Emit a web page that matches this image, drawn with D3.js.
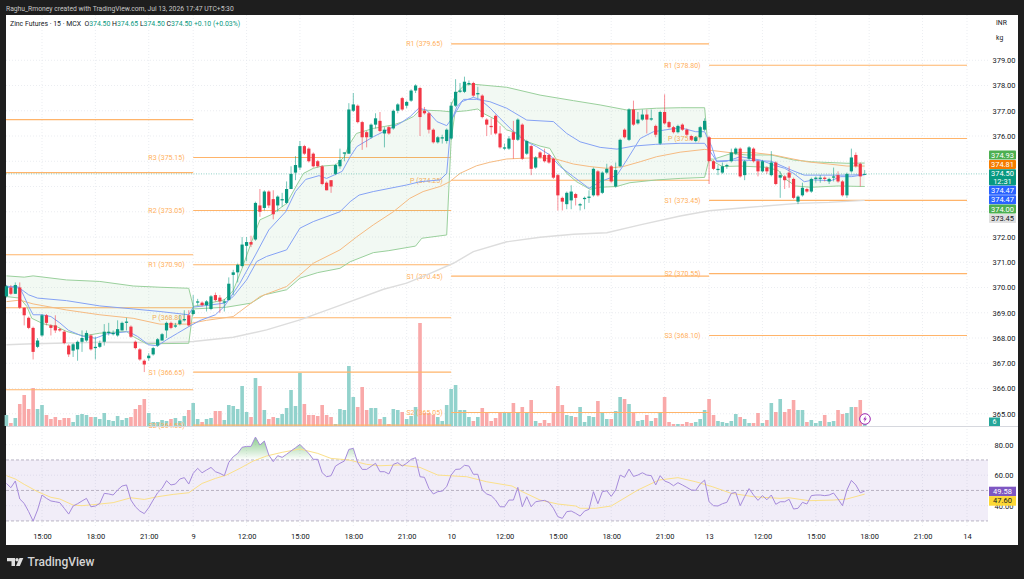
<!DOCTYPE html>
<html>
<head>
<meta charset="utf-8">
<script src="https://d3js.org/d3.v7.min.js"></script>
<style>
html, body { margin: 0; padding: 0; background: #1e1e1e; }
svg { display: block; }
text { font-family: Roboto, "Liberation Sans", sans-serif; }
.axis path, .axis line { display: none; }
.axis text { fill: #131722; font-size: 7.5px; font-family: Roboto, "Liberation Sans", sans-serif; }
</style>
</head>
<body>
<svg width="1024" height="579"></svg>
<script>
// ---- data, 15 minute bars ----
var opens = [
  369.65,370.0,369.75,370.0,369.2,368.8,368.4,367.65,368.1,368.9,
  368.5,368.5,368.35,368.25,367.7,367.5,367.55,367.85,367.9,368.1,
  367.6,367.65,367.85,368.2,368.15,368.1,368.3,368.6,368.45,367.85,
  367.55,367.1,367.2,367.35,367.7,367.9,368.3,368.6,368.45,368.55,
  368.7,368.9,368.95,369.4,369.4,369.3,369.15,369.7,369.6,369.4,
  369.5,370.5,370.6,370.85,371.65,371.8,371.9,373.25,373.15,373.8,
  373.5,373.25,373.45,373.35,373.9,374.55,374.75,375.6,375.5,375.3,
  375.0,374.8,374.15,374.25,374.5,374.8,375.3,375.3,377.0,377.2,
  376.55,376.15,375.95,376.45,376.6,376.1,376.35,376.3,377.0,377.5,
  377.2,377.4,377.8,377.9,377.0,376.9,376.25,375.75,375.9,375.8,
  375.9,377.2,377.75,377.75,378.05,378.1,377.65,377.6,376.65,376.4,
  376.8,376.1,375.5,375.5,376.15,375.85,376.45,375.3,375.6,374.75,
  375.35,375.25,375.25,375.1,374.45,373.55,373.3,373.45,373.7,373.25,
  373.5,373.55,373.65,374.6,373.75,374.55,374.8,374.0,374.8,376.25,
  375.85,377.05,376.5,376.65,376.85,376.65,376.4,375.7,376.95,376.55,
  376.35,376.15,376.45,376.25,376.0,375.8,375.95,376.25,375.95,375.0,
  374.65,374.55,374.8,375.0,375.3,375.5,374.45,375.1,375.5,375.0,
  374.6,374.75,374.45,374.95,374.35,374.4,374.55,374.3,373.4,373.65,
  373.9,373.8,374.3,374.3,374.35,374.2,374.35,374.45,374.2,373.65,
  374.6,375.25,374.9,374.5];
var highs = [
  370.1,370.1,370.2,370.2,369.2,368.85,368.45,368.0,368.95,368.95,
  368.55,368.9,368.4,368.3,367.75,367.8,367.9,368.3,368.3,368.15,
  368.05,367.9,368.55,368.6,368.3,368.7,368.65,368.8,368.5,367.9,
  367.6,367.15,367.4,367.65,368.0,368.2,368.65,368.65,368.6,368.9,
  369.1,369.1,369.7,369.55,369.45,369.5,369.7,369.8,369.7,369.55,
  370.4,370.7,370.95,372.0,372.0,372.05,373.4,373.9,373.85,373.85,
  373.85,373.65,373.75,374.2,374.8,375.2,375.8,375.65,375.55,375.35,
  375.05,374.85,374.2,374.25,374.9,375.5,375.35,377.3,377.7,377.25,
  376.6,376.2,376.5,376.9,376.95,376.35,376.4,377.05,377.3,377.55,
  377.4,377.85,378.05,377.95,377.15,376.95,376.3,376.0,376.05,376.3,
  377.35,378.25,378.1,378.35,378.2,378.15,377.95,377.65,376.7,376.7,
  376.85,376.4,375.7,376.0,376.6,376.7,376.5,375.85,375.65,375.2,
  375.4,375.5,375.3,375.15,374.5,373.6,373.8,374.05,373.75,373.35,
  373.6,373.85,374.75,374.65,374.6,374.9,374.85,374.95,375.9,376.3,
  377.1,377.4,376.95,377.05,377.05,377.05,376.45,377.0,377.65,376.6,
  376.4,376.45,376.5,376.3,376.05,376.0,376.4,376.7,376.0,375.05,
  374.85,374.95,374.9,375.5,375.55,375.55,375.05,375.6,375.55,375.05,
  375.05,374.8,375.4,375.0,374.6,374.45,374.8,374.35,373.65,374.15,
  373.95,374.35,374.4,374.45,374.4,374.35,374.75,374.6,374.25,374.55,
  375.5,375.35,374.95,374.65];
var lows = [
  369.6,369.7,369.75,369.15,368.5,368.35,367.15,367.6,368.05,368.5,
  368.1,368.2,368.25,367.75,367.25,367.25,367.1,367.45,367.85,367.5,
  367.15,367.6,367.7,368.1,368.1,368.05,368.3,368.3,368.0,367.55,
  367.1,366.65,367.1,367.3,367.65,367.9,368.0,368.35,368.4,368.5,
  368.65,368.45,368.9,369.3,369.25,369.05,369.1,369.45,369.0,369.05,
  369.5,369.7,370.2,370.8,371.05,371.6,371.85,372.8,373.05,373.15,
  372.7,373.0,373.2,373.3,373.9,374.25,374.65,375.25,374.95,374.75,
  374.75,374.05,373.85,373.75,374.45,374.7,375.0,375.3,376.95,376.5,
  375.45,375.55,375.9,376.3,376.15,375.55,376.05,376.25,376.9,377.0,
  377.1,377.35,377.7,376.0,376.85,376.1,375.7,375.7,375.7,375.7,
  375.85,377.15,377.7,377.7,378.0,377.55,377.5,376.7,376.0,376.05,
  376.05,375.5,375.45,375.45,375.1,375.8,375.05,375.25,374.45,374.7,
  375.1,374.95,374.9,374.3,373.05,373.05,373.1,373.1,373.25,373.05,
  373.1,373.35,373.6,373.6,373.7,374.5,374.15,373.95,374.75,375.9,
  375.8,376.4,376.45,376.6,376.1,376.6,375.95,375.65,376.45,376.3,
  376.1,376.1,376.2,376.0,375.8,375.75,375.9,376.2,374.1,374.65,
  374.45,374.5,374.7,374.95,375.25,374.35,374.25,375.05,374.95,374.4,
  374.55,374.5,374.4,374.05,373.55,373.9,373.95,373.5,373.3,373.6,
  373.75,373.75,374.15,374.15,374.2,374.1,374.2,374.15,373.6,373.55,
  374.55,374.75,374.0,374.5];
var closes = [
  370.05,369.75,370.1,369.2,368.9,368.4,367.45,367.9,368.9,368.6,
  368.4,368.3,368.3,367.8,367.35,367.75,367.85,368.0,368.2,367.55,
  367.65,367.8,368.25,368.25,368.2,368.35,368.6,368.65,368.05,367.6,
  367.15,366.95,367.3,367.6,367.95,368.15,368.6,368.4,368.5,368.7,
  368.75,368.5,369.1,369.45,369.3,369.45,369.65,369.5,369.45,369.45,
  370.15,370.6,370.9,371.7,371.8,371.7,373.35,373.0,373.8,373.25,
  372.9,373.6,373.5,373.9,374.5,374.85,375.6,375.3,375.0,374.8,
  374.8,374.1,373.85,374.0,374.85,375.05,375.35,377.05,377.25,376.55,
  375.95,375.95,376.45,376.7,376.2,376.25,376.1,377.0,377.25,377.05,
  377.35,377.8,378.0,376.75,376.9,376.25,375.75,375.95,375.95,376.25,
  377.2,377.75,377.8,378.15,378.1,377.6,377.7,376.75,376.45,376.35,
  376.1,375.55,375.55,375.9,375.85,376.65,375.1,375.8,374.7,375.15,
  375.15,375.0,374.95,374.35,373.65,373.4,373.75,373.8,373.55,373.3,
  373.55,373.6,374.7,373.65,374.55,374.7,374.2,374.65,375.85,375.95,
  377.05,376.45,376.65,376.85,376.65,376.7,376.05,376.95,376.5,376.35,
  376.15,376.4,376.25,376.05,375.85,375.95,376.35,376.6,375.0,374.7,
  374.7,374.8,374.85,375.35,375.5,374.4,375.0,375.55,375.0,374.6,
  375.0,374.6,374.95,374.1,374.45,374.25,374.35,373.55,373.6,373.95,
  373.8,374.3,374.35,374.35,374.3,374.3,374.4,374.2,373.65,374.5,
  375.15,374.8,374.4,374.5];
var volumes = [
  11,3,8,22,31,17,38,17,21,11,
  7,9,6,8,8,4,11,12,11,9,
  9,7,13,6,5,10,6,8,9,17,
  21,27,13,4,4,6,5,7,8,5,
  10,16,23,7,4,7,8,15,15,6,
  21,20,17,40,14,9,48,40,16,7,
  9,8,12,18,36,20,53,22,11,11,
  10,21,11,9,2,17,16,60,29,19,
  39,16,18,18,7,9,2,17,16,14,
  7,10,19,103,13,13,11,9,5,21,
  37,41,16,16,9,5,9,18,14,5,
  8,14,13,14,23,13,19,13,26,5,
  3,6,3,14,40,21,11,10,9,19,
  4,10,9,25,14,7,7,15,29,27,
  22,13,5,6,11,5,8,13,29,4,
  2,2,2,4,3,4,7,16,27,11,
  5,4,3,5,12,9,7,3,3,13,
  3,6,23,14,27,14,17,26,16,16,
  4,6,3,5,11,4,5,16,12,13,
  19,19,26,3];
var rsi = [
  54.6,51.8,56.2,44.4,41.5,36.1,29.9,37.2,47.0,44.8,
  43.1,42.6,42.0,38.3,34.5,39.8,41.3,43.1,44.8,39.3,
  39.8,41.5,48.1,47.7,47.0,50.3,52.9,53.6,43.7,39.3,
  36.5,34.8,38.7,43.7,48.5,51.4,56.4,53.6,54.2,57.5,
  58.4,54.2,61.2,64.5,61.6,63.4,65.1,62.3,61.2,59.7,
  68.4,72.1,74.3,78.3,78.9,78.9,85.0,79.8,82.4,73.2,
  68.9,72.8,71.7,73.7,75.9,78.0,80.2,77.2,74.3,70.4,
  70.4,61.6,59.0,59.7,66.0,67.8,69.3,76.9,77.6,68.2,
  63.8,63.8,65.8,67.8,62.3,62.3,60.8,67.1,68.2,66.0,
  67.8,70.4,71.5,59.0,58.6,51.4,47.7,49.2,49.6,52.5,
  60.1,63.8,64.0,66.5,66.0,60.6,60.6,50.3,47.7,46.6,
  43.7,39.3,39.3,43.7,43.7,52.0,39.3,45.9,39.3,42.6,
  43.1,43.5,42.2,38.3,32.8,31.7,36.1,36.5,35.0,33.2,
  36.5,37.6,49.2,41.3,49.2,49.8,46.1,50.3,60.1,58.6,
  64.0,59.2,60.1,61.6,60.1,59.7,53.6,59.7,56.2,55.1,
  53.1,55.1,53.6,52.0,50.3,50.1,54.2,56.8,42.6,40.0,
  39.8,41.3,42.2,48.1,48.7,40.0,45.9,51.2,47.0,43.5,
  46.6,43.9,47.0,40.9,42.6,42.6,44.2,37.8,38.3,42.2,
  41.1,46.6,47.0,47.0,46.6,47.0,48.3,44.4,40.0,50.3,
  56.6,53.6,48.5,49.58];

// indicators, read as [bar, value]
var rsiMa = [[0,59.7],[2,57.5],[4,54],[7,49.2],[10,45.5],[12,44.4],[15,40.4],[17,40],[21,41.1],[24,42],[28,45.2],[31,44.1],[34,45.9],[37.5,47.4],[41,48.5],[44,54.6],[47,57.9],[49.5,60.1],[52.5,64.5],[55.5,69.3],[58.5,72.6],[62,75],[66,77.2],[70,74.3],[73,71],[77,70],[81,67.1],[84,66.2],[88.5,66.7],[93,65.1],[97,60.1],[103.5,59],[108,55.7],[113.7,52.9],[116,49.2],[120,43.7],[124,41.1],[128,39.8],[129,38.3],[132.5,38.3],[136,39.8],[142,50.3],[146.7,56.8],[151,58.4],[155,55.7],[158.7,52.5],[163,48.1],[168,45.9],[174,44.8],[176,45.2],[180.5,43.3],[186,43.7],[189,44.4],[193,47.6]];
var emaSlow = [[0,369.44],[3,369.5],[6,369.35],[13.5,369.11],[21,368.92],[28.5,368.78],[34.5,368.55],[40.5,368.55],[45,368.7],[51,368.85],[57,369.64],[63,370.04],[69,370.96],[75,371.49],[78.8,372.01],[82.5,372.48],[87,373.0],[90.7,373.53],[93.7,373.8],[97.5,374.0],[99.7,374.19],[102,374.52],[105.7,374.82],[108.7,374.96],[112.5,375.09],[116.2,375.12],[120,375.14],[123.7,375.08],[127.5,374.89],[131.2,374.79],[135,374.72],[138.7,374.79],[142.5,374.98],[146.2,375.18],[151.5,375.36],[157,375.47],[159,375.42],[162.8,375.34],[168,375.34],[172.5,375.25],[176,375.12],[180,374.98],[185.4,374.88],[189,374.81],[193,374.81]];
var emaLong = [[0,367.73],[6,367.77],[21,367.83],[36,367.82],[42,367.86],[51,368.03],[58.5,368.32],[66,368.72],[75,369.29],[84.8,369.93],[90,370.17],[95.3,370.56],[100.5,370.96],[105,371.42],[112.5,371.81],[120,371.99],[127.5,372.11],[135,372.17],[142.5,372.48],[151.5,372.83],[158,373.04],[166.5,373.17],[178,373.33],[185,373.37],[193,373.45]];
var emaFast = [[0,369.99],[2,370.05],[3,370],[4,369.64],[5,369.25],[6,368.92],[8,368.92],[10,368.85],[12,368.6],[14,368.3],[17,368.08],[20,367.99],[22.5,368.16],[25.5,368.22],[27.5,368.25],[29.5,368.06],[32,367.73],[34,367.69],[36,367.93],[38.5,368.19],[41,368.45],[43.5,368.69],[47,368.92],[49,369.25],[52.5,370.17],[56,371.29],[59,372.28],[62.8,373.0],[65,373.8],[67.3,374.28],[70.3,374.43],[72,374.32],[74,374.48],[75.5,374.6],[77.3,375.18],[78.8,375.58],[82.5,375.97],[86.3,376.3],[88.5,376.5],[90.8,376.77],[92.7,377.1],[94.5,377.03],[96.8,376.57],[99,376.41],[100.5,376.77],[102.4,377.36],[105,377.53],[106.5,377.45],[108.8,377.1],[111,376.7],[113.3,376.3],[116.2,375.84],[119.2,375.58],[122.2,375.25],[124.5,374.79],[127.5,374.39],[131,373.93],[133.6,374.19],[137.3,374.45],[139.5,375.05],[142.5,375.9],[145.5,376.17],[151.5,376.33],[155,376.17],[157,376.17],[158.6,375.58],[159.7,374.98],[162,375],[165,375.18],[169.5,375.05],[172.5,374.85],[175,374.72],[177,374.52],[179.4,374.19],[181.5,374.26],[185.4,374.23],[187.6,374.39],[190,374.39],[193,374.47]];
var vwap = [[0,370.06],[3,369.97],[5,369.71],[7,369.58],[13.5,369.48],[21,369.27],[28.5,369.15],[34.5,369.05],[41,368.92],[42,369.22],[49,369.38],[51,369.64],[54,370.3],[56.3,371.03],[58.5,371.23],[63,371.49],[66,372.35],[69,372.61],[75,373.0],[77.3,373.4],[79.3,373.66],[82.5,373.8],[90,374.06],[93,374.19],[97.5,374.26],[99,374.52],[100,376.57],[101.3,377.16],[102.8,377.45],[105.7,377.45],[108.7,377.36],[112.5,377.1],[117,376.63],[123,376.57],[126,376.1],[129,375.77],[133.5,375.55],[137.3,375.48],[141,375.6],[146,375.67],[151.5,375.71],[157,375.71],[158,375.45],[159.7,375.01],[165,375.05],[172,375],[176.5,374.65],[179.4,374.45],[189,374.45],[193,374.47]];
var bandUpper = [[0,370.46],[4,370.41],[6,370.46],[13.5,370.3],[21,370.24],[28.5,370.06],[34.5,370.01],[41,369.97],[42,369.25],[49,369.51],[51,369.88],[53,370.76],[55,371.75],[57,372.68],[59.5,372.88],[63,373.33],[65.3,374.06],[66.8,374.52],[69,374.72],[71,374.81],[74,374.85],[76,375.18],[77,375.64],[78.7,376.1],[82.5,376.3],[87,376.44],[89.2,376.57],[91.5,376.77],[93,377.03],[97.5,377],[99.7,376.96],[100,377.23],[101.2,377.69],[103,378.02],[105,378.05],[112.5,377.93],[120,377.62],[127.5,377.4],[133.5,377.23],[139.5,377.03],[146.2,377.1],[151.5,377.12],[157,377.12],[158,375.1],[159,375.08],[163,375.31],[166.5,375.25],[172,375.25],[177,375.05],[181,374.98],[189,374.92],[193,374.93]];
var bandLower = [[0,369.64],[3,369.58],[4.6,369.25],[5.7,368.78],[8.3,368.56],[11.3,368.45],[13.5,368.26],[17.3,368.08],[21,368.19],[27,368.26],[28.5,368.06],[31.5,367.77],[41,367.79],[42,369.15],[49.5,369.22],[55,369.38],[58,369.71],[63,369.91],[66,370.37],[70,370.59],[75,370.76],[77.3,371.02],[82.5,371.38],[86,371.46],[92,371.64],[93.4,371.95],[99,372.08],[100,375.84],[100.9,376.96],[103.5,377],[106,377.07],[107.2,376.9],[110.2,376.63],[112.5,376.24],[114.7,376.13],[117,375.78],[120,375.6],[122.2,375.51],[123.7,375.05],[126,374.52],[128.2,374.19],[131.2,373.89],[133.5,373.97],[137.2,374],[140.2,374.15],[146.2,374.26],[151.5,374.32],[157,374.36],[158,375.08],[161,374.79],[165,374.81],[171,374.76],[173.6,374.63],[175,374.32],[177.4,374.02],[181,373.97],[187,374.02],[193,374.0]];

// pivots: each period runs between two bars
var pivotPeriods = [[-1,42],[42,100],[100,158],[158,216]];
var pivotNames = [
  ["","","","",""],
  ["R3","R2","R1","P","S1","S2"],
  ["R1","P","S1","S2"],
  ["R1","P","S1","S2","S3"]];
var pivotLevels = [
  [376.65,374.55,371.3,369.2,365.95],
  [375.15,373.05,370.90,368.80,366.65,364.55],
  [379.65,374.25,370.45,365.05],
  [378.80,375.90,373.45,370.55,368.10]];

var priceTicks = [365,366,367,368,369,370,371,372,373,374,375,376,377,378,379];
// 373, 374 and 375 sit behind the price tags
var priceLabels = [365,366,367,368,369,370,371,372,376,377,378,379];
var rsiTicks = [80,60,40];
var rsiBands = [70,50,30];
var timeBars = [8,20,32,42,54,66,78,90,100,112,124,136,148,158,170,182,194,206,216];
var timeLabels = ["15:00","18:00","21:00","9","12:00","15:00","18:00","21:00","10","12:00","15:00","18:00","21:00","13","12:00","15:00","18:00","21:00","14"];

var tagTexts = ["374.93","374.81","374.50","374.47","374.47","374.00","373.45"];
var tagColors = ["#4caf50","#f57c00","#089981","#2962ff","#2962ff","#4caf50","#e0e0e0"];
var legendParts = [
  ["Zinc Futures \u00b7 15 \u00b7 MCX  ", "#131722"],["O", "#131722"],["374.50 ", "#089981"],
  ["H", "#131722"],["374.65 ", "#089981"],["L", "#131722"],["374.50 ", "#089981"],
  ["C", "#131722"],["374.50 ", "#089981"],["+0.10 (+0.03%)", "#089981"]];

function draw()
{
  var svg = d3.select("svg");
  var paneLeft = 6, paneRight = 988, frameRight = 1018;

  var x = d3.scaleLinear().domain([8, 216]).range([42, 967]);
  var y = d3.scaleLinear().domain([365, 379]).range([413.75, 60.25]);
  var yVol = d3.scaleLinear().domain([0, 103]).range([426, 323]);
  var yRsi = d3.scaleLinear().domain([80, 40]).range([444.7, 505.7]);

  // chart sheet
  svg.append("rect").attr("x", paneLeft).attr("y", 15)
     .attr("width", frameRight - paneLeft).attr("height", 530)
     .attr("fill", "#fff");

  svg.append("text").attr("x", 6).attr("y", 10.5)
     .attr("fill", "#c8c8c8").attr("font-size", "6.75px")
     .text("Raghu_Rmoney created with TradingView.com, Jul 13, 2026 17:47 UTC+5:30");

  // grid
  var grid = svg.append("g").attr("stroke", "#e6e8ee").attr("stroke-width", 0.8).attr("stroke-dasharray", "1,2");
  grid.selectAll(".vg").data(timeBars).enter().append("line")
      .attr("x1", function(d) { return x(d); }).attr("x2", function(d) { return x(d); })
      .attr("y1", 15).attr("y2", 528);
  grid.selectAll(".hg").data(priceTicks).enter().append("line")
      .attr("x1", paneLeft).attr("x2", paneRight)
      .attr("y1", function(d) { return y(d); }).attr("y2", function(d) { return y(d); });
  grid.selectAll(".rg").data(rsiTicks).enter().append("line")
      .attr("x1", paneLeft).attr("x2", paneRight)
      .attr("y1", function(d) { return yRsi(d); }).attr("y2", function(d) { return yRsi(d); });

  // volume
  svg.selectAll(".vol").data(volumes).enter().append("rect")
     .attr("x", function(d, i) { return x(i) - 1.8; })
     .attr("width", 3.6)
     .attr("y", function(d) { return yVol(d); })
     .attr("height", function(d) { return yVol(0) - yVol(d); })
     .attr("fill", function(d, i) { return closes[i] >= opens[i] ? "#92d2cc" : "#f9a9a9"; });

  // pivots
  pivotLevels.forEach(function(levels, p) {
    var x1 = Math.max(x(pivotPeriods[p][0]), paneLeft), x2 = x(pivotPeriods[p][1]);
    levels.forEach(function(level, k) {
      svg.append("line").attr("x1", x1).attr("x2", x2)
         .attr("y1", y(level)).attr("y2", y(level))
         .attr("stroke", "#ffb46a").attr("stroke-width", 1.1);
      if (pivotNames[p][k]) {
        svg.append("text").attr("x", x1 - 8.5).attr("y", y(level) + 2.5)
           .attr("text-anchor", "end").attr("fill", "#ffb05c").attr("font-size", "7px")
           .text(pivotNames[p][k] + " (" + level.toFixed(2) + ")");
      }
    });
  });

  var line = d3.line()
      .x(function(d) { return x(d[0]); })
      .y(function(d) { return y(d[1]); });

  // band fill runs along the whole upper line and back along the lower one
  svg.append("path").attr("d", line(bandUpper.concat(bandLower.slice().reverse())) + "Z")
     .attr("fill", "#4caf50").attr("fill-opacity", 0.07);

  function drawLine(data, color, width) {
    svg.append("path").attr("d", line(data)).attr("fill", "none")
       .attr("stroke", color).attr("stroke-width", width);
  }
  drawLine(emaLong, "#dddddd", 1.4);
  drawLine(bandUpper, "#9ad09c", 1);
  drawLine(bandLower, "#9ad09c", 1);
  drawLine(emaSlow, "#f6bb82", 1);
  drawLine(vwap, "#85a2f5", 1);
  drawLine(emaFast, "#85a2f5", 1);

  // last price
  svg.append("line").attr("x1", paneLeft).attr("x2", paneRight)
     .attr("y1", y(374.5)).attr("y2", y(374.5))
     .attr("stroke", "#089981").attr("stroke-opacity", 0.55)
     .attr("stroke-width", 0.8).attr("stroke-dasharray", "1,1.5");

  // candles
  var candle = svg.selectAll(".candle").data(opens).enter().append("g").attr("class", "candle");
  candle.append("line")
     .attr("x1", function(d, i) { return x(i); }).attr("x2", function(d, i) { return x(i); })
     .attr("y1", function(d, i) { return y(highs[i]); }).attr("y2", function(d, i) { return y(lows[i]); })
     .attr("stroke", function(d, i) { return closes[i] >= opens[i] ? "#089981" : "#f23645"; })
     .attr("stroke-opacity", 0.55).attr("stroke-width", 1);
  candle.append("rect")
     .attr("x", function(d, i) { return x(i) - 1.6; }).attr("width", 3.2)
     .attr("y", function(d, i) { return y(Math.max(opens[i], closes[i])); })
     .attr("height", function(d, i) { return Math.max(1, Math.abs(y(opens[i]) - y(closes[i]))); })
     .attr("fill", function(d, i) { return closes[i] >= opens[i] ? "#089981" : "#f23645"; });

  // legend
  var legend = svg.append("text").attr("x", 10).attr("y", 25.5).attr("font-size", "6.9px").attr("xml:space", "preserve");
  legendParts.forEach(function(p) {
    legend.append("tspan").attr("fill", p[1]).text(p[0]);
  });

  // pane separator
  svg.append("line").attr("x1", paneLeft).attr("x2", frameRight).attr("y1", 426.5).attr("y2", 426.5)
     .attr("stroke", "#d6d8de").attr("stroke-width", 1);

  // rsi pane
  svg.append("rect").attr("x", paneLeft).attr("width", paneRight - paneLeft)
     .attr("y", yRsi(70)).attr("height", yRsi(30) - yRsi(70))
     .attr("fill", "#7e57c2").attr("fill-opacity", 0.11);
  svg.selectAll(".rb").data(rsiBands).enter().append("line")
     .attr("x1", paneLeft).attr("x2", paneRight)
     .attr("y1", function(d) { return yRsi(d); }).attr("y2", function(d) { return yRsi(d); })
     .attr("stroke", "#a9a3b5").attr("stroke-width", 0.8).attr("stroke-dasharray", "3,2");

  var defs = svg.append("defs");
  var grad = defs.append("linearGradient").attr("id", "obFill").attr("gradientUnits", "userSpaceOnUse")
     .attr("x1", 0).attr("x2", 0).attr("y1", yRsi(85)).attr("y2", yRsi(70));
  grad.append("stop").attr("offset", 0).attr("stop-color", "#4caf50").attr("stop-opacity", 0.65);
  grad.append("stop").attr("offset", 1).attr("stop-color", "#4caf50").attr("stop-opacity", 0);
  defs.append("clipPath").attr("id", "above70").append("rect")
     .attr("x", paneLeft).attr("y", 427).attr("width", paneRight - paneLeft).attr("height", yRsi(70) - 427);

  var rsiArea = d3.area()
     .x(function(d, i) { return x(i); })
     .y0(yRsi(70))
     .y1(function(d) { return yRsi(d); });
  svg.append("path").attr("d", rsiArea(rsi)).attr("fill", "url(#obFill)").attr("clip-path", "url(#above70)");

  var rsiMaLine = d3.line().x(function(d) { return x(d[0]); }).y(function(d) { return yRsi(d[1]); });
  svg.append("path").attr("d", rsiMaLine(rsiMa)).attr("fill", "none").attr("stroke", "#fbe08a").attr("stroke-width", 1);
  var rsiLine = d3.line().x(function(d, i) { return x(i); }).y(function(d) { return yRsi(d); });
  svg.append("path").attr("d", rsiLine(rsi)).attr("fill", "none").attr("stroke", "#a68bdb").attr("stroke-width", 1);

  // axes
  svg.append("g").attr("class", "axis")
     .attr("transform", "translate(0,531)")
     .call(d3.axisBottom(x).tickValues(timeBars).tickSize(0)
        .tickFormat(function(d, i) { return timeLabels[i]; }));
  svg.append("g").attr("class", "axis")
     .attr("transform", "translate(1004,0)")
     .call(d3.axisLeft(y).tickValues(priceLabels).tickSize(0).tickPadding(0).tickFormat(d3.format(".2f")))
     .selectAll("text").attr("text-anchor", "middle");
  svg.append("g").attr("class", "axis")
     .attr("transform", "translate(1004,0)")
     .call(d3.axisLeft(yRsi).tickValues(rsiTicks).tickSize(0).tickPadding(0).tickFormat(d3.format(".2f")))
     .selectAll("text").attr("text-anchor", "middle");

  svg.append("text").attr("x", 996).attr("y", 25).attr("fill", "#131722").attr("font-size", "6.8px").text("INR");
  svg.append("text").attr("x", 996).attr("y", 40).attr("fill", "#131722").attr("font-size", "6.8px").text("kg");

  // price tags, stacked under each other
  var tagY = 150.5;
  tagTexts.forEach(function(t, i) {
    var h = i == 2 ? 16.5 : 9.4;
    svg.append("rect").attr("x", 989).attr("y", tagY).attr("width", 27).attr("height", h - 0.4).attr("fill", tagColors[i]).attr("rx", 0.8);
    svg.append("text").attr("x", 1002.5).attr("y", tagY + 7).attr("text-anchor", "middle")
       .attr("fill", i == 6 ? "#131722" : "#fff").attr("font-size", "7.5px").text(t);
    if (i == 2) {
      svg.append("text").attr("x", 1002.5).attr("y", tagY + 14.5).attr("text-anchor", "middle")
         .attr("fill", "#fff").attr("font-size", "7.5px").text("12:31");
    }
    tagY += h;
  });

  // rsi tags
  svg.append("rect").attr("x", 989).attr("y", 486.7).attr("width", 27).attr("height", 9.4).attr("fill", "#7e57c2");
  svg.append("text").attr("x", 1002.5).attr("y", 493.8).attr("text-anchor", "middle").attr("fill", "#fff").attr("font-size", "7.5px").text(rsi[rsi.length - 1].toFixed(2));
  svg.append("rect").attr("x", 989).attr("y", 496.1).attr("width", 27).attr("height", 9.6).attr("fill", "#fdd835");
  svg.append("text").attr("x", 1002.5).attr("y", 503.2).attr("text-anchor", "middle").attr("fill", "#131722").attr("font-size", "7.5px").text("47.60");

  // volume tag and lightning marker
  svg.append("rect").attr("x", 989).attr("y", 417.5).attr("width", 11).attr("height", 8.5).attr("fill", "#26a69a");
  svg.append("text").attr("x", 994.5).attr("y", 424).attr("text-anchor", "middle").attr("fill", "#fff").attr("font-size", "7px").text("6");
  var bolt = svg.append("g").attr("transform", "translate(865,419)");
  bolt.append("circle").attr("r", 5.3).attr("fill", "#fff").attr("stroke", "#9c27b0").attr("stroke-width", 1);
  bolt.append("path").attr("d", "M1,-3.2L-1.8,0.6H-0.1L-1,3.2L1.8,-0.6H0.1Z").attr("fill", "#9c27b0");

  // watermark
  var logo = svg.append("g").attr("fill", "#e0e0e0");
  logo.append("path").attr("d", "M7,558H15V566H11.5V561.2H7Z");
  logo.append("circle").attr("cx", 17).attr("cy", 559.8).attr("r", 1.7);
  logo.append("path").attr("d", "M19.5,558H23.3L19.8,566H16Z");
  svg.append("text").attr("x", 27.5).attr("y", 566).attr("fill", "#d4d4d4")
     .attr("font-size", "12px").attr("font-weight", 500).text("TradingView");
}

draw();
</script>
</body>
</html>
